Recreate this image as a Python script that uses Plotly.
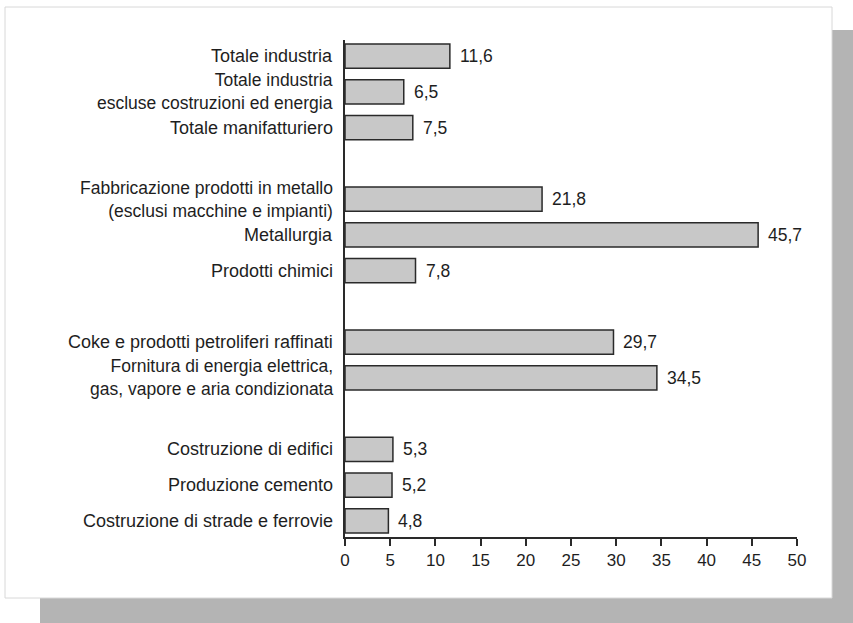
import plotly.graph_objects as go

categories = [
    "Totale industria",
    "Totale industria<br>escluse costruzioni ed energia",
    "Totale manifatturiero",
    "Fabbricazione prodotti in metallo<br>(esclusi macchine e impianti)",
    "Metallurgia",
    "Prodotti chimici",
    "Coke e prodotti petroliferi raffinati",
    "Fornitura di energia elettrica,<br>gas, vapore e aria condizionata",
    "Costruzione di edifici",
    "Produzione cemento",
    "Costruzione di strade e ferrovie",
]
values = [11.6, 6.5, 7.5, 21.8, 45.7, 7.8, 29.7, 34.5, 5.3, 5.2, 4.8]
slots = [0, 1, 2, 4, 5, 6, 8, 9, 11, 12, 13]
x_ticks = [0, 5, 10, 15, 20, 25, 30, 35, 40, 45, 50]

W, H = 853, 623
L, R, T, B = 345, 797, 40, 537
FONT = "Liberation Sans, Arial, Helvetica, sans-serif"
INK = "#1e1e1e"

def px(x):
    return (x - L) / (R - L)

def py(y):
    return (B - y) / (B - T)

fig = go.Figure()
fig.add_trace(go.Bar(
    x=values, y=slots, orientation="h",
    width=0.68,
    marker=dict(color="#c8c8c8", line=dict(color="#2a2a2a", width=1.5)),
    hoverinfo="skip",
))

annotations = []
for v, s in zip(values, slots):
    annotations.append(dict(
        x=v, y=s, xref="x", yref="y", text=f"{v:.1f}".replace(".", ","),
        showarrow=False, xanchor="left", yanchor="middle", xshift=8,
        font=dict(family=FONT, size=17.5, color=INK),
    ))
for label, s in zip(categories, slots):
    two = "<br>" in label
    annotations.append(dict(
        x=0, y=s, xref="paper", yref="y", text=label, align="right",
        showarrow=False, xanchor="right", yanchor="middle", xshift=-10,
        font=dict(family=FONT, size=17.5 if two else 18, color=INK),
    ))

fig.update_layout(
    width=W, height=H,
    margin=dict(l=L, r=W - R, t=T, b=H - B),
    paper_bgcolor="white",
    plot_bgcolor="rgba(0,0,0,0)",
    showlegend=False,
    font=dict(family=FONT, size=17, color=INK),
    annotations=annotations,
    shapes=[
        dict(type="rect", xref="paper", yref="paper",
             x0=px(40), x1=px(870), y0=py(640), y1=py(30),
             fillcolor="#b4b4b4", line=dict(width=0), layer="below"),
        dict(type="rect", xref="paper", yref="paper",
             x0=px(5), x1=px(832), y0=py(598), y1=py(7),
             fillcolor="white", line=dict(color="#d8d8d8", width=1), layer="below"),
    ],
)
fig.update_xaxes(
    range=[0, 50], tickvals=x_ticks, ticktext=[str(t) for t in x_ticks],
    showgrid=False, zeroline=False,
    showline=True, linecolor="#2a2a2a", linewidth=1.5,
    ticks="outside", ticklen=7, tickcolor="#2a2a2a", tickwidth=1.5,
    tickfont=dict(family=FONT, size=17, color=INK),
)
fig.update_yaxes(
    range=[13.45, -0.45], showticklabels=False,
    showgrid=False, zeroline=False,
    showline=True, linecolor="#2a2a2a", linewidth=1.5,
    ticks="",
)

fig.write_html(
    "out.html",
    config={"displayModeBar": False},
    post_script="document.body.style.margin='0';document.body.style.overflow='hidden';",
)
